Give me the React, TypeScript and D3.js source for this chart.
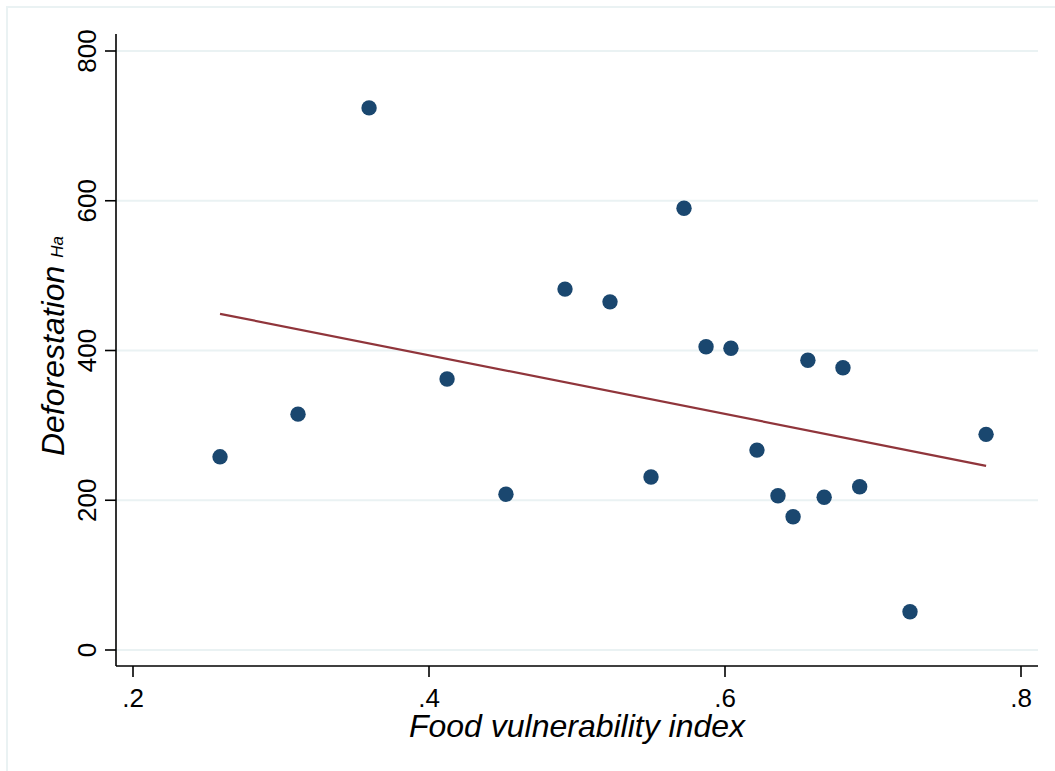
import { useEffect, useRef } from "react";
import * as d3 from "d3";

const WIDTH = 1055;
const HEIGHT = 771;

// plot region (pixel edges of the axes box)
const PLOT = { left: 116, right: 1038, top: 34, bottom: 666 };

// food vulnerability index per area
const foodIndex = [
  0.2588, 0.3115, 0.3595, 0.4122, 0.452, 0.4919, 0.5223, 0.55, 0.5723, 0.5872,
  0.604, 0.6216, 0.6358, 0.646, 0.656, 0.667, 0.6797, 0.691, 0.725, 0.7764,
];
// deforestation (ha)
const deforestation = [
  258, 315, 724, 362, 208, 482, 465, 231, 590, 405,
  403, 267, 206, 178, 387, 204, 377, 218, 51, 288,
];

// fitted line endpoints (lfit)
const fitX = [0.2588, 0.7764];
const fitY = [449, 246];

const xTicks = [0.2, 0.4, 0.6, 0.8];
const xTickLabels = [".2", ".4", ".6", ".8"];
const yTicks = [0, 200, 400, 600, 800];

const FONT = "'Liberation Sans', Arial, sans-serif";

const ScatterPlot = () => {
  const ref = useRef<SVGSVGElement>(null);

  useEffect(() => {
    const svg = d3.select(ref.current);
    svg.selectAll("*").remove();

    const xScale = d3.scaleLinear().domain([0.2, 0.8]).range([133, 1021]);
    const yScale = d3.scaleLinear().domain([0, 800]).range([650, 51]);

    svg.append("rect").attr("width", WIDTH).attr("height", HEIGHT).attr("fill", "#fff");

    // outer frame
    svg
      .append("rect")
      .attr("x", 7)
      .attr("y", 7)
      .attr("width", WIDTH + 20)
      .attr("height", HEIGHT + 20)
      .attr("fill", "none")
      .attr("stroke", "#eaf2f3")
      .attr("stroke-width", 2);

    // gridlines
    svg
      .append("g")
      .selectAll("line")
      .data(yTicks)
      .join("line")
      .attr("x1", PLOT.left)
      .attr("x2", PLOT.right)
      .attr("y1", (d) => yScale(d))
      .attr("y2", (d) => yScale(d))
      .attr("stroke", "#eaf2f3")
      .attr("stroke-width", 2);

    // fitted line
    const line = d3
      .line<number>()
      .x((d) => xScale(d))
      .y((_, i) => yScale(fitY[i]));
    svg
      .append("path")
      .attr("d", line(fitX))
      .attr("fill", "none")
      .attr("stroke", "#90353b")
      .attr("stroke-width", 2.2);

    // points
    svg
      .append("g")
      .selectAll("circle")
      .data(foodIndex)
      .join("circle")
      .attr("cx", (d) => xScale(d))
      .attr("cy", (_, i) => yScale(deforestation[i]))
      .attr("r", 7.7)
      .attr("fill", "#1a476f");

    // axes lines
    svg
      .append("line")
      .attr("x1", PLOT.left)
      .attr("x2", PLOT.left)
      .attr("y1", PLOT.top)
      .attr("y2", PLOT.bottom)
      .attr("stroke", "#000")
      .attr("stroke-width", 1.6);
    svg
      .append("line")
      .attr("x1", PLOT.left)
      .attr("x2", PLOT.right)
      .attr("y1", PLOT.bottom)
      .attr("y2", PLOT.bottom)
      .attr("stroke", "#000")
      .attr("stroke-width", 1.6);

    // y ticks + labels
    const yg = svg.append("g").selectAll("g").data(yTicks).join("g");
    yg.append("line")
      .attr("x1", PLOT.left - 11)
      .attr("x2", PLOT.left)
      .attr("y1", (d) => yScale(d))
      .attr("y2", (d) => yScale(d))
      .attr("stroke", "#000")
      .attr("stroke-width", 1.6);
    yg.append("text")
      .attr("transform", (d) => `translate(96,${yScale(d)}) rotate(-90)`)
      .attr("text-anchor", "middle")
      .attr("font-family", FONT)
      .attr("font-size", 26)
      .text((d) => String(d));

    // x ticks + labels
    const xg = svg.append("g").selectAll("g").data(xTicks).join("g");
    xg.append("line")
      .attr("x1", (d) => xScale(d))
      .attr("x2", (d) => xScale(d))
      .attr("y1", PLOT.bottom)
      .attr("y2", PLOT.bottom + 11)
      .attr("stroke", "#000")
      .attr("stroke-width", 1.6);
    xg.append("text")
      .attr("x", (d) => xScale(d))
      .attr("y", 707)
      .attr("text-anchor", "middle")
      .attr("font-family", FONT)
      .attr("font-size", 26)
      .text((_, i) => xTickLabels[i]);

    // axis titles
    svg
      .append("text")
      .attr("x", 577)
      .attr("y", 737)
      .attr("text-anchor", "middle")
      .attr("font-family", FONT)
      .attr("font-style", "italic")
      .attr("font-size", 32)
      .text("Food vulnerability index");

    const yt = svg
      .append("text")
      .attr("transform", "translate(64,346) rotate(-90)")
      .attr("text-anchor", "middle")
      .attr("font-family", FONT)
      .attr("font-style", "italic")
      .attr("font-size", 32);
    yt.append("tspan").text("Deforestation");
    yt.append("tspan")
      .attr("font-size", 17)
      .attr("dx", 8)
      .attr("dy", -1)
      .text("Ha");
  }, []);

  return <svg ref={ref} width={WIDTH} height={HEIGHT} />;
};

export default function App() {
  return (
    <div style={{ position: "absolute", left: 0, top: 0 }}>
      <ScatterPlot />
    </div>
  );
}
